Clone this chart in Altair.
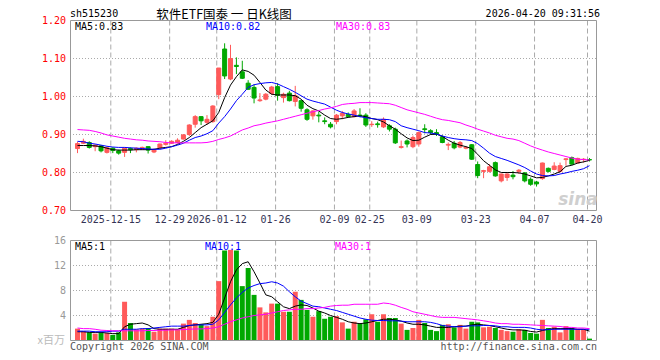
import altair as alt
import pandas as pd

# ---------------- data ----------------
idx = list(range(88))
opens = [0.863,0.877,0.879,0.868,0.870,0.853,0.864,0.857,0.853,0.863,
         0.860,0.861,0.868,0.854,0.865,0.874,0.877,0.879,0.888,0.900,
         0.927,0.947,0.932,0.934,1.005,1.125,1.046,1.082,1.065,1.035,
         1.024,0.989,0.993,1.008,1.026,0.997,1.009,0.987,0.989,0.965,
         0.949,0.951,0.936,0.927,0.934,0.949,0.953,0.947,0.951,0.951,
         0.926,0.928,0.920,0.923,0.914,0.866,0.883,0.868,0.875,0.915,
         0.910,0.905,0.894,0.872,0.877,0.867,0.864,0.873,0.821,0.803,
         0.803,0.826,0.778,0.787,0.793,0.803,0.799,0.782,0.775,0.784,
         0.811,0.808,0.803,0.834,0.839,0.825,0.834,0.834]
highs = [0.881,0.889,0.882,0.874,0.872,0.868,0.866,0.860,0.866,0.866,
         0.866,0.868,0.868,0.863,0.876,0.885,0.885,0.890,0.901,0.927,
         0.951,0.947,0.951,0.977,1.075,1.140,1.136,1.103,1.094,1.043,
         1.032,1.009,1.009,1.028,1.035,1.010,1.015,1.028,0.991,0.969,
         0.964,0.960,0.945,0.933,0.954,0.962,0.958,0.967,0.969,0.956,
         0.935,0.934,0.945,0.927,0.918,0.884,0.887,0.897,0.908,0.927,
         0.914,0.914,0.898,0.879,0.883,0.883,0.870,0.875,0.829,0.807,
         0.822,0.829,0.797,0.798,0.804,0.809,0.801,0.787,0.778,0.826,
         0.813,0.827,0.826,0.838,0.842,0.839,0.838,0.838]
lows = [0.851,0.875,0.863,0.856,0.853,0.850,0.851,0.847,0.841,0.851,
        0.853,0.860,0.850,0.851,0.864,0.871,0.875,0.876,0.887,0.896,
        0.918,0.925,0.925,0.931,0.993,1.046,1.043,1.059,1.046,1.017,
        0.982,0.986,0.990,1.004,0.989,0.984,0.987,0.974,0.960,0.936,
        0.939,0.932,0.927,0.916,0.927,0.940,0.945,0.945,0.945,0.920,
        0.920,0.918,0.917,0.908,0.875,0.863,0.866,0.864,0.868,0.903,
        0.901,0.896,0.877,0.859,0.861,0.864,0.861,0.833,0.785,0.785,
        0.800,0.789,0.774,0.778,0.782,0.796,0.774,0.765,0.763,0.781,
        0.800,0.806,0.800,0.818,0.820,0.824,0.826,0.829]
closes = [0.876,0.882,0.866,0.872,0.857,0.865,0.858,0.851,0.864,0.860,
          0.864,0.866,0.859,0.860,0.875,0.877,0.882,0.885,0.899,0.925,
          0.947,0.936,0.940,0.975,1.075,1.054,1.100,1.079,1.048,1.019,
          0.996,0.991,1.006,1.025,1.003,1.006,0.989,1.002,0.969,0.940,
          0.962,0.949,0.934,0.920,0.951,0.956,0.947,0.962,0.949,0.925,
          0.927,0.926,0.940,0.914,0.878,0.868,0.875,0.892,0.905,0.913,
          0.905,0.901,0.879,0.874,0.865,0.879,0.866,0.835,0.792,0.805,
          0.815,0.791,0.796,0.796,0.789,0.806,0.778,0.769,0.770,0.825,
          0.803,0.817,0.818,0.836,0.822,0.837,0.835,0.833]
ma5 = [0.871,0.871,0.871,0.870,0.868,0.864,0.860,0.859,0.859,0.859,
       0.860,0.860,0.860,0.861,0.864,0.866,0.868,0.874,0.882,0.892,
       0.905,0.918,0.927,0.936,0.958,0.997,1.030,1.052,1.070,1.066,
       1.056,1.037,1.017,1.006,1.004,1.004,1.004,1.002,0.993,0.977,
       0.968,0.962,0.951,0.942,0.940,0.942,0.945,0.947,0.949,0.947,
       0.942,0.939,0.933,0.923,0.914,0.902,0.891,0.884,0.885,0.893,
       0.900,0.901,0.895,0.885,0.877,0.872,0.868,0.863,0.848,0.831,
       0.819,0.807,0.800,0.800,0.800,0.799,0.796,0.791,0.786,0.787,
       0.791,0.796,0.802,0.816,0.819,0.825,0.828,0.832]
ma10 = [0.882,0.881,0.877,0.875,0.872,0.869,0.867,0.866,0.866,0.865,
        0.864,0.863,0.862,0.861,0.861,0.864,0.868,0.872,0.877,0.885,
        0.892,0.896,0.902,0.910,0.930,0.947,0.967,0.989,1.006,1.024,
        1.031,1.034,1.036,1.037,1.033,1.026,1.019,1.011,1.002,0.993,
        0.988,0.984,0.980,0.972,0.964,0.958,0.954,0.951,0.947,0.944,
        0.942,0.940,0.940,0.939,0.934,0.923,0.918,0.914,0.910,0.905,
        0.904,0.901,0.896,0.892,0.889,0.887,0.886,0.884,0.876,0.864,
        0.851,0.842,0.837,0.832,0.826,0.820,0.813,0.804,0.796,0.792,
        0.791,0.792,0.796,0.799,0.803,0.806,0.810,0.818]
ma30 = [0.913,0.912,0.911,0.908,0.904,0.899,0.896,0.893,0.890,0.888,
        0.886,0.885,0.883,0.882,0.881,0.879,0.878,0.878,0.878,0.878,
        0.878,0.878,0.879,0.882,0.887,0.891,0.896,0.904,0.912,0.917,
        0.923,0.926,0.930,0.933,0.936,0.940,0.944,0.948,0.952,0.956,
        0.960,0.963,0.967,0.970,0.974,0.979,0.981,0.982,0.984,0.984,
        0.984,0.983,0.982,0.981,0.977,0.971,0.965,0.961,0.957,0.953,
        0.948,0.943,0.939,0.937,0.934,0.931,0.925,0.920,0.914,0.909,
        0.904,0.898,0.894,0.890,0.888,0.884,0.877,0.870,0.864,0.859,
        0.854,0.850,0.846,0.842,0.838,0.835,0.834,0.833]
vols = [1.9,1.5,1.3,1.1,1.3,1.2,0.9,1.3,6.2,2.8,
        1.8,1.9,2.0,1.4,1.9,1.9,1.9,1.8,2.7,3.3,
        2.8,2.6,2.3,3.8,9.5,14.4,14.5,14.4,8.7,11.6,
        7.3,5.3,4.5,5.9,5.9,4.6,4.6,7.8,6.5,4.9,
        3.8,4.7,3.5,3.8,3.9,2.9,1.9,3.0,2.7,3.4,
        4.2,3.0,4.2,3.6,3.6,2.7,1.7,2.0,3.3,2.8,
        1.7,1.5,2.5,2.6,2.1,2.5,1.9,3.0,2.9,2.1,
        2.2,2.0,1.7,1.5,1.4,1.8,1.7,1.2,1.1,3.3,
        2.0,2.2,1.3,2.3,2.0,1.8,1.8,0.3]
vma5 = [1.4,1.4,1.3,1.3,1.3,1.2,1.1,1.1,2.2,2.6,
        2.7,2.8,2.5,1.9,1.8,1.8,1.8,1.8,2.1,2.4,
        2.5,2.6,2.7,2.9,4.2,6.8,9.4,11.3,12.3,12.6,
        11.0,9.2,7.3,7.0,6.2,5.4,5.1,5.5,5.7,5.6,
        5.2,4.7,4.4,4.0,3.7,3.4,3.0,2.8,2.7,2.8,
        3.0,3.2,3.4,3.4,3.3,3.1,2.8,2.6,2.6,2.5,
        2.3,2.1,2.1,2.1,2.2,2.3,2.3,2.5,2.6,2.5,
        2.4,2.2,2.0,1.8,1.7,1.7,1.65,1.45,1.35,1.6,
        1.8,1.9,1.9,1.9,1.9,1.8,1.8,1.5]
vma10 = [1.5,1.5,1.5,1.4,1.4,1.4,1.5,1.5,1.8,1.8,
         1.8,1.9,1.9,2.0,2.1,2.2,2.3,2.3,2.3,2.4,
         2.5,2.5,2.5,2.6,3.3,4.5,5.7,6.8,7.7,8.4,
         8.8,9.1,9.2,9.4,9.2,8.7,7.8,7.0,6.3,5.9,
         5.5,5.4,5.2,5.0,4.8,4.5,4.2,3.9,3.6,3.4,
         3.25,3.2,3.2,3.15,3.15,3.1,3.0,3.0,3.0,3.0,
         2.9,2.7,2.4,2.3,2.2,2.2,2.3,2.35,2.35,2.4,
         2.4,2.35,2.2,2.2,2.1,2.1,2.1,2.0,1.8,1.7,
         1.75,1.8,1.8,1.8,1.8,1.8,1.8,1.8]
vma30 = [2.0,1.9,1.9,1.8,1.65,1.6,1.55,1.55,1.55,1.55,
         1.55,1.55,1.6,1.6,1.65,1.65,1.7,1.7,1.75,1.8,
         1.85,1.85,1.9,2.0,2.2,2.6,3.0,3.3,3.6,3.8,
         4.0,4.1,4.2,4.4,4.6,4.8,4.9,5.0,5.0,5.1,
         5.1,5.2,5.3,5.5,5.6,5.65,5.65,5.8,5.8,5.8,
         5.8,5.8,6.0,5.9,5.65,5.3,5.0,4.6,4.4,4.2,
         4.0,3.8,3.7,3.7,3.7,3.6,3.5,3.4,3.3,3.15,
         3.0,2.8,2.7,2.7,2.6,2.6,2.55,2.5,2.45,2.4,
         2.35,2.3,2.25,2.1,2.1,2.0,2.0,1.9]

date_idx = [6, 16, 24, 34, 44, 50, 58, 68, 78, 87]
date_labels = ["2025-12-15", "12-29", "2026-01-12", "01-26", "02-09",
               "02-25", "03-09", "03-23", "04-07", "04-20"]
price_ticks = [1.20, 1.10, 1.00, 0.90, 0.80, 0.70]
price_grid = [1.10, 1.00, 0.90, 0.80]
vol_ticks = [16, 12, 8, 4]
vol_grid = [12, 8, 4]

# ---------------- styling ----------------
RED = "#ff5a5a"
GREEN = "#00a800"
GRID = "#aaaaaa"
FRAME = "#999999"
MONO = "DejaVu Sans Mono"
CJK = "Noto Sans CJK SC"
W, H = 527, 321

df = pd.DataFrame(dict(idx=idx, open=opens, high=highs, low=lows, close=closes,
                       ma5=ma5, ma10=ma10, ma30=ma30, vol=vols,
                       vma5=vma5, vma10=vma10, vma30=vma30))
df["dir"] = ["up" if c >= o else "down" for o, c in zip(opens, closes)]
dates = pd.DataFrame({"idx": date_idx, "label": date_labels})
pt = pd.DataFrame({"v": price_ticks, "label": [f"{v:.2f}" for v in price_ticks]})
pg = pd.DataFrame({"v": price_grid})
vt = pd.DataFrame({"v": vol_ticks, "label": [str(v) for v in vol_ticks]})
vg = pd.DataFrame({"v": vol_grid})
one = pd.DataFrame({"k": [0]})

XS = alt.Scale(domain=[0, 87], range=[2.5, 524.5])
PS = alt.Scale(domain=[0.70, 1.20], range=[190.5, 0.5])
VS = alt.Scale(domain=[0, 16], range=[320.5, 220.5])
color = alt.Color("dir:N", scale=alt.Scale(domain=["up", "down"], range=[RED, GREEN]), legend=None)


def X(f="idx"):
    return alt.X(f"{f}:Q", scale=XS, axis=None)


def PY(f):
    return alt.Y(f"{f}:Q", scale=PS, axis=None)


def VY(f):
    return alt.Y(f"{f}:Q", scale=VS, axis=None)


def label(text, x, y, col="#000000", size=10, align="left", font=MONO, **kw):
    return alt.Chart(one).mark_text(text=text, align=align, baseline="middle", font=font,
                                    fontSize=size, color=col, **kw).encode(
        x=alt.value(x), y=alt.value(y))


# ---------------- price panel ----------------
p_grid_h = alt.Chart(pg).mark_rule(color=GRID, strokeDash=[1, 2], strokeWidth=1).encode(
    y=PY("v"), x=alt.value(0), x2=alt.value(W))
p_grid_v = alt.Chart(dates).mark_rule(color=GRID, strokeDash=[5, 3], strokeWidth=1, xOffset=-2).encode(
    x=X(), y=alt.value(0.5), y2=alt.value(190.5))
wicks = alt.Chart(df).mark_rule(strokeWidth=1).encode(x=X(), y=PY("low"), y2=alt.Y2("high"), color=color)
bodies = alt.Chart(df).mark_bar(size=4, strokeWidth=1).encode(
    x=X(), y=PY("open"), y2=alt.Y2("close"), color=color, stroke=color)
l5 = alt.Chart(df).mark_line(color="#000000", strokeWidth=1).encode(x=X(), y=PY("ma5"))
l10 = alt.Chart(df).mark_line(color="#0000ff", strokeWidth=1).encode(x=X(), y=PY("ma10"))
l30 = alt.Chart(df).mark_line(color="#ff00ff", strokeWidth=1).encode(x=X(), y=PY("ma30"))
p_frame = alt.Chart(one).mark_rect(fillOpacity=0, stroke=FRAME, strokeWidth=1).encode(
    x=alt.value(0.5), x2=alt.value(W - 0.5), y=alt.value(0.5), y2=alt.value(190.5))
p_labels = alt.Chart(pt).mark_text(align="right", baseline="middle", font=MONO, fontSize=10,
                                   color="#ff0000").encode(x=alt.value(-4), y=PY("v"), text="label:N")
d_labels = alt.Chart(dates).mark_text(align="center", baseline="middle", font=MONO, fontSize=10,
                                      color="#333355", dx=-2).encode(x=X(), y=alt.value(200), text="label:N")
watermark = label("sina", 508, 180, col="#cfcfcf", size=17, align="center",
                  font="DejaVu Sans", fontStyle="italic", fontWeight="bold")

price = alt.layer(
    p_grid_h, p_grid_v, wicks, bodies, l5, l10, l30, p_frame, p_labels, d_labels, watermark,
    label("sh515230", 0, -6.5),
    label("软件ETF国泰  一  日K线图", 154, -5.5, size=12.5, align="center", font=CJK),
    label("2026-04-20 09:31:56", 530, -6.5, align="right"),
    label("MA5:0.83", 5, 6.5),
    label("MA10:0.82", 136, 6.5, col="#0000ff"),
    label("MA30:0.83", 266, 6.5, col="#ff00ff"),
)

# ---------------- volume panel ----------------
v_grid_h = alt.Chart(vg).mark_rule(color=GRID, strokeDash=[1, 2], strokeWidth=1).encode(
    y=VY("v"), x=alt.value(0), x2=alt.value(W))
v_grid_v = alt.Chart(dates).mark_rule(color=GRID, strokeDash=[5, 3], strokeWidth=1, xOffset=-2).encode(
    x=X(), y=alt.value(220.5), y2=alt.value(320.5))
vbars = alt.Chart(df).mark_bar(size=5).encode(x=X(), y=VY("vol"), color=color)
v5 = alt.Chart(df).mark_line(color="#000000", strokeWidth=1).encode(x=X(), y=VY("vma5"))
v10 = alt.Chart(df).mark_line(color="#0000ff", strokeWidth=1).encode(x=X(), y=VY("vma10"))
v30 = alt.Chart(df).mark_line(color="#ff00ff", strokeWidth=1).encode(x=X(), y=VY("vma30"))
v_frame = alt.Chart(one).mark_rect(fillOpacity=0, stroke=FRAME, strokeWidth=1).encode(
    x=alt.value(0.5), x2=alt.value(W - 0.5), y=alt.value(220.5), y2=alt.value(320.5))
v_labels = alt.Chart(vt).mark_text(align="right", baseline="middle", font=MONO, fontSize=10,
                                   color="#999999").encode(x=alt.value(-4), y=VY("v"), text="label:N")

volume = alt.layer(
    v_grid_h, v_grid_v, vbars, v5, v10, v30, v_frame, v_labels,
    label("x百万", -5, 321, col="#bbbbbb", size=11, align="right", font=CJK),
    label("MA5:1", 5, 227),
    label("MA10:1", 135, 227, col="#0000ff"),
    label("MA30:1", 265, 227, col="#ff00ff"),
    label("Copyright 2026 SINA.COM", 0, 326.5, col="#555555"),
    label("http://finance.sina.com.cn", W, 326.5, col="#555555", align="right"),
)

chart = alt.layer(price, volume).resolve_scale(y="independent").properties(
    width=W, height=H,
    autosize=alt.AutoSizeParams(type="none"),
    padding={"left": 62, "top": 12, "right": 55, "bottom": 15},
).configure_view(stroke=None)

chart.save("out.html", embed_options={"renderer": "svg", "actions": False})
